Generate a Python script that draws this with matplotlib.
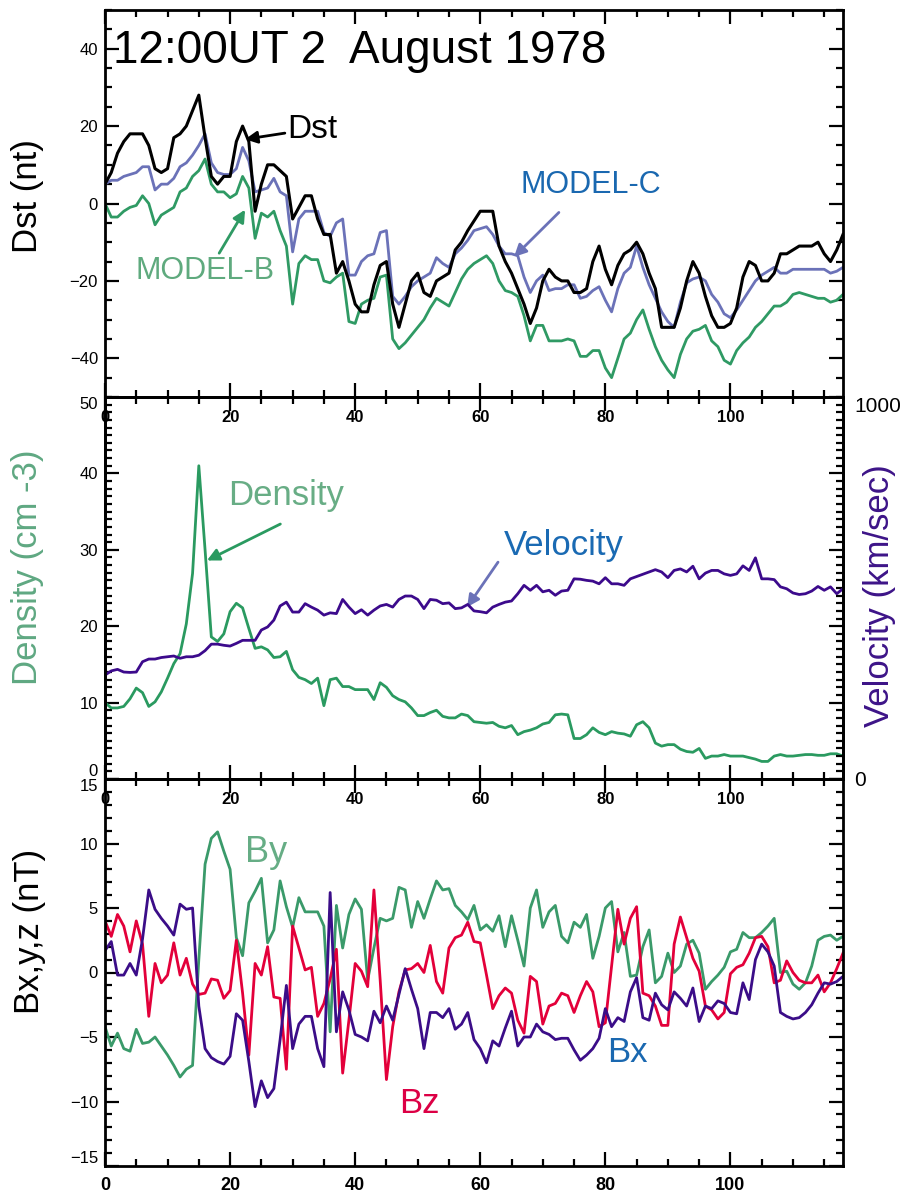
import numpy as np
import matplotlib
matplotlib.use("Agg")
from matplotlib import pyplot as plt
from matplotlib.ticker import MultipleLocator

plt.rcParams['font.family'] = ['Liberation Sans', 'DejaVu Sans']

# hours since 12:00UT 2 August 1978
hours = np.arange(119)

dst = [5, 8, 13, 16, 18, 18, 18, 15, 9, 8, 9, 17, 18, 20, 24, 28, 17, 7, 5, 7,
       7, 16, 20, 16, -2, 5, 10, 10, 8.5, 7, -4, -1, 2, 2, -4, -8, -8, -18, -15, -20,
       -26, -28, -28, -21, -16, -15, -26, -32, -26, -20, -18, -23, -24, -20, -19, -18, -12, -10, -7, -4.5,
       -2, -2, -2, -11, -15, -18, -22, -26, -31, -27, -20, -17, -19, -20, -20, -23, -23, -22, -15, -11,
       -17, -21, -16, -13, -12, -10, -13, -18, -22, -32, -32, -32, -27, -20, -15, -18, -24, -29, -32, -32,
       -31, -27, -19, -15, -16, -20, -20, -18, -13, -13, -12, -11, -11, -11, -10, -13, -15, -12, -8]

model_c = [5, 6, 6, 7, 7.5, 8, 9.5, 9.5, 3.5, 5, 5, 6.5, 9.5, 10.5, 12.5, 15, 18, 10.5, 8, 7.5,
           7.5, 9, 14.5, 11, 3, 3.5, 4, 6.5, 3, 2, -12.5, -4, -2, -2, -2, -7.5, -8.5, -5, -4, -18.5,
           -18.5, -15, -13.5, -13, -7.5, -7, -24, -26, -24, -21.5, -20, -19, -18, -14, -15.5, -16.5, -13, -11.5, -9.5, -7,
           -6.5, -6, -8, -11, -13, -13, -13.5, -19, -23, -20, -18.5, -22.5, -22, -22, -21, -21, -24.5, -24, -22.5, -21.5,
           -25, -28, -22, -18, -16.5, -11, -16.5, -21, -24.5, -28, -30.5, -32, -25.5, -20.5, -19.5, -19, -20, -23.5, -25.5, -28.5,
           -29.5, -27.5, -25, -22.5, -20, -18.5, -17.5, -16.5, -18, -18, -17, -17, -17, -17, -17, -17, -18, -17.5, -16.5]

model_b = [0, -3.5, -3.5, -2, -1, -0.5, 2, 0, -5.5, -3, -2, -1, 3, 4, 7, 8.5, 11.5, 5, 3, 3,
           1.5, 2.5, 7, 4, -9, -2.5, -3.5, -2, -7, -11, -26, -15.5, -13.5, -14.5, -14.5, -20, -20.5, -19, -18, -30.5,
           -31, -26, -25, -24.5, -19, -18.5, -35, -37.5, -36, -34, -32, -30, -27, -24.5, -25.5, -26.5, -23, -19.5, -17, -15.5,
           -14.5, -13.5, -15.5, -20, -22.5, -23, -24, -29, -35.5, -31.5, -31.5, -35.5, -35.5, -35.5, -35, -35.5, -39.5, -39.5, -38, -38,
           -42.5, -45, -40, -35, -33.5, -30, -27.5, -32.5, -37, -40.5, -43, -45, -39, -35, -33, -32.5, -31.5, -35.5, -37, -40.5,
           -41.5, -38, -36, -34.5, -32, -30.5, -28.5, -26.5, -26.5, -25.5, -23.5, -23, -23.5, -24, -24.5, -24.5, -25.5, -25, -23.5]

density = [10, 9.3, 9.3, 9.5, 10.5, 11.9, 11.3, 9.5, 10.1, 11.4, 13.2, 15.1, 16.4, 20.3, 26.9, 41, 30, 18.6, 18, 19,
           21.9, 23, 22.4, 19.7, 17.1, 17.3, 16.9, 15.9, 16, 16.7, 14.3, 13.3, 13, 12.5, 13.2, 9.6, 13, 13.2, 12.1, 12.1,
           11.7, 11.7, 11.7, 10.4, 12.6, 12, 10.9, 10.4, 10.1, 9.3, 8.3, 8.3, 8.7, 9, 8.2, 8, 8, 8.5, 8.3, 7.5,
           7.4, 7.3, 7.4, 6.9, 6.7, 7, 5.8, 6.2, 6.4, 6.7, 7.2, 7.4, 8.4, 8.5, 8.4, 5.3, 5.3, 5.8, 6.7, 6.1,
           5.8, 6.2, 6, 5.9, 5.6, 7.1, 7.5, 6.7, 4.7, 4.3, 4.5, 4.5, 3.9, 3.6, 3.5, 4, 2.7, 3, 3, 3.2,
           3, 3, 3, 2.8, 2.6, 2.3, 2.3, 3, 3.2, 3, 3, 3.1, 3.2, 3.2, 3.1, 3.1, 3.3, 3.3, 3]

velocity = [272, 283, 287, 280, 279, 280, 307, 314, 314, 318, 320, 322, 316, 320, 320, 324, 336, 353, 353, 350,
            348, 355, 363, 363, 363, 390, 398, 416, 453, 463, 437, 437, 459, 450, 442, 429, 435, 433, 470, 450,
            433, 443, 429, 442, 453, 457, 450, 470, 479, 479, 470, 446, 470, 468, 459, 461, 446, 448, 457, 440,
            438, 435, 450, 457, 463, 466, 485, 507, 494, 507, 490, 494, 481, 492, 494, 524, 523, 520, 518, 511,
            527, 511, 511, 507, 524, 530, 536, 542, 548, 542, 527, 546, 550, 542, 557, 524, 539, 546, 546, 537,
            533, 537, 558, 546, 579, 524, 524, 522, 503, 498, 487, 483, 485, 492, 504, 494, 503, 485, 498]

bx = [1.7, 2.4, -0.2, -0.2, 0.7, -0.2, 2.6, 6.4, 4.9, 4.2, 3.6, 2.9, 5.3, 4.9, 5, -2.6, -5.9, -6.6, -6.9, -7.1,
      -6.5, -3.2, -3.7, -6.9, -10.4, -8.4, -9.7, -9, -5.2, -1, -5.9, -4, -3.4, -3.4, -5.9, -7.3, 6.2, -4.6, -1.5, -2.9,
      -4.8, -5, -5.3, -3, -3.9, -2.6, -3.7, -1.7, 0.3, -1.3, -2.8, -5.9, -3.1, -3.1, -3.5, -2.8, -4.4, -4, -3.1, -5.2,
      -5.9, -7, -5.3, -5.7, -4.3, -3, -5.7, -5, -5, -4, -4.6, -4.8, -5.2, -5.1, -5.1, -6, -6.8, -6.4, -5.9, -5.1,
      -2.8, -4.2, -3.5, -3.8, -1.5, -0.4, -3.5, -3.7, -1.6, -2.5, -2.9, -1.5, -2, -2.6, -1.2, -3.8, -2.6, -2.8, -2.2, -2.4,
      -3.1, -3.2, -0.8, -2.1, 1, 2.2, 1.6, 0.5, -3.1, -3.4, -3.6, -3.5, -3.1, -2.5, -1.6, -0.8, -0.9, -0.7, -0.3]

by = [-4.2, -5.7, -4.7, -5.9, -6.1, -4.4, -5.5, -5.4, -5, -5.7, -6.4, -7.2, -8.1, -7.5, -7.2, 1, 8.4, 10.4, 10.9, 9.4,
      8, 2.7, 1.3, 5.4, 6.3, 7.3, 2.3, 3.3, 7.1, 5.1, 3.5, 5.8, 4.7, 4.7, 4.7, 3.6, -4.6, 5.2, 1.9, 4.5,
      5.7, 4.9, -0.6, 1.9, 4.2, 4, 4.2, 6.6, 6.4, 3.5, 5.5, 4.2, 5.7, 7.1, 6.4, 6.5, 5.2, 4.7, 4.1, 5.2,
      3.3, 3.7, 3.2, 4.4, 2, 4.4, 2.5, 0.5, 5, 6.4, 3.5, 4.7, 5.2, 2.8, 2.3, 3.9, 3.5, 4.5, 1.1, 2.8,
      5, 5.5, 1.6, 3.1, -0.3, -0.2, 2, 3.3, -0.8, -0.3, 1.5, 0, 0.5, 2.2, 2.5, 1.5, -1.3, -0.7, -0.2, 0.4,
      1.6, 1.8, 3.1, 2.7, 2.7, 3.1, 3.6, 4.2, 0, 0.1, -0.9, -1.3, -0.8, 0.5, 2.5, 2.8, 2.9, 2.5, 2.8]

bz = [4, 2.8, 4.5, 3.6, 1.6, 4, 2.2, -3.4, 0.7, -0.8, -0.2, 2.3, -0.2, 1.1, -0.9, -1.7, -1.6, -0.5, -0.6, -2,
      -1.4, 2.5, -1.6, -6.4, 0.7, -0.2, 2, -1.9, -2, -7.5, 3.6, 1.9, 0.2, 0.4, -3.4, -2.4, -0.5, 1.8, -7.8, -3.7,
      0.7, 0.1, -1.1, 6.4, -0.6, -8.3, -4.2, -1.5, 0.2, 0.3, 0.7, 0, 2.1, -0.7, -1.6, 1.9, 2.7, 2.9, 3.9, 2.4,
      2.3, -0.2, -2.8, -1.8, -1.2, -1.6, -3.7, -4.7, -0.3, -0.7, -4, -2.6, -2.4, -1.6, -1.8, -3.1, -1.8, -0.7, -1.5, -4.2,
      -3.9, 0.5, 4.9, 2.2, 4.2, 5.1, -1.6, -1.8, -2.6, -4.1, -4.1, 2.2, 4.3, 2.7, 1.1, 0.1, -2.6, -2.9, -3.6, -3.1,
      -0.1, 0.4, 0.6, 1.5, 2.7, 2.8, 2, -0.8, -0.6, 0.9, 0, -0.6, -0.8, -0.8, -0.2, -1.5, -0.8, 0.3, 1.5]

fig = plt.figure(figsize=(9.11, 11.94), dpi=100)
left, width = 105 / 911, 738 / 911
ax1 = fig.add_axes([left, 1 - 397 / 1194, width, 387 / 1194])
ax2 = fig.add_axes([left, 1 - 779 / 1194, width, 382 / 1194])
ax3 = fig.add_axes([left, 1 - 1166 / 1194, width, 387 / 1194])
ax2v = ax2.twinx()


def style(ax, ymaj, ymin, xpad=9):
    ax.patch.set_visible(False)
    ax.set_xlim(0, 118)
    ax.xaxis.set_major_locator(MultipleLocator(20))
    ax.xaxis.set_minor_locator(MultipleLocator(5))
    ax.yaxis.set_minor_locator(MultipleLocator(ymin))
    ax.tick_params(which='both', direction='in', top=True, right=True, width=1.6)
    ax.tick_params(which='major', length=10)
    ax.tick_params(which='minor', length=5)
    ax.tick_params(axis='y', labelsize=12, pad=5)
    ax.tick_params(axis='x', labelsize=12, pad=xpad)
    for lbl in ax.get_xticklabels():
        lbl.set_fontweight('bold')
    for sp in ax.spines.values():
        sp.set_linewidth(2)


def edge_labels(ax):
    # end labels sit inside the panel, as in the original plot
    labels = ax.get_yticklabels()
    labels[0].set_verticalalignment('bottom')
    labels[-1].set_verticalalignment('top')


# --- Dst panel
ax1.plot(hours, model_c, color='#6b72b8', lw=2)
ax1.plot(hours, model_b, color='#2f9a64', lw=2)
ax1.plot(hours, dst, color='black', lw=2.2)
ax1.set_ylim(-50, 50)
ax1.set_yticks([-40, -20, 0, 20, 40])
style(ax1, 20, 5)
ax1.text(1.3, 36.4, '12:00UT 2  August 1978', fontsize=33)
ax1.annotate('Dst', xy=(22.4, 16.6), xytext=(29.2, 16.9), fontsize=24,
             ha='left', va='baseline', color='black',
             arrowprops=dict(arrowstyle='-|>', color='black', lw=2, mutation_scale=18,
                             shrinkA=0, shrinkB=0, relpos=(0, 0.4)))
ax1.annotate('MODEL-B', xy=(22.4, -1.6), xytext=(4.8, -19.5), fontsize=22,
             ha='left', va='baseline', color='#5faa7e',
             arrowprops=dict(arrowstyle='-|>', color='#2f9a64', lw=2, mutation_scale=18,
                             shrinkA=0, shrinkB=0, relpos=(0.6, 1.05)))
ax1.annotate('MODEL-C', xy=(65.4, -13.8), xytext=(66.5, 2.6), fontsize=22,
             ha='left', va='baseline', color='#1a68b0',
             arrowprops=dict(arrowstyle='-|>', color='#6b72b8', lw=2, mutation_scale=18,
                             shrinkA=0, shrinkB=0, relpos=(0.27, -0.4)))
fig.text(28 / 911, 1 - 196 / 1194, 'Dst (nt)', fontsize=25, rotation=90,
         ha='center', va='center')

# --- solar wind density / velocity panel
ax2.plot(hours, density, color='#2a9a60', lw=2)
ax2.set_ylim(0, 50)
ax2.set_yticks(np.arange(0, 51, 10))
style(ax2, 10, 1)
ax2.tick_params(right=False, which='both')
edge_labels(ax2)
ax2v.plot(hours, velocity, color='#3c0a8c', lw=2)
ax2v.set_ylim(0, 1000)
ax2v.set_yticks(np.arange(0, 1001, 200), ['0', '', '', '', '', '1000'])
ax2v.yaxis.set_minor_locator(MultipleLocator(20))
ax2v.tick_params(which='both', direction='in', width=1.6, labelsize=15, pad=8)
ax2v.tick_params(which='major', length=10)
ax2v.tick_params(which='minor', length=5)
ax2v.get_yticklabels()[-1].set_verticalalignment('top')
ax2v.patch.set_visible(False)
for sp in ax2v.spines.values():
    sp.set_linewidth(2)
ax2.annotate('Density', xy=(16.3, 28.6), xytext=(19.7, 35.8), fontsize=25,
             ha='left', va='baseline', color='#68ad85',
             arrowprops=dict(arrowstyle='-|>', color='#2a9a60', lw=2, mutation_scale=18,
                             shrinkA=0, shrinkB=0, relpos=(0.45, -0.35)))
ax2.annotate('Velocity', xy=(57.9, 22.5), xytext=(63.8, 29.3), fontsize=25,
             ha='left', va='baseline', color='#1a6ab3',
             arrowprops=dict(arrowstyle='-|>', color='#6b72b8', lw=2, mutation_scale=18,
                             shrinkA=0, shrinkB=0, relpos=(-0.05, 0.0)))
fig.text(28 / 911, 1 - 567 / 1194, 'Density (cm -3)', fontsize=25, rotation=90,
         ha='center', va='center', color='#5fa882')
fig.text(880 / 911, 1 - 596 / 1194, 'Velocity (km/sec)', fontsize=25, rotation=90,
         ha='center', va='center', color='#3d1488')

# --- IMF panel
ax3.plot(hours, by, color='#3a9a6a', lw=2)
ax3.plot(hours, bz, color='#e3003a', lw=2)
ax3.plot(hours, bx, color='#3b0d88', lw=2)
ax3.set_ylim(-15, 15)
ax3.set_yticks(np.arange(-15, 16, 5))
style(ax3, 5, 1, xpad=8)
ax3.tick_params(axis='x', labelsize=13)
edge_labels(ax3)
ax3.text(22.4, 8.6, 'By', fontsize=26, color='#66ad85')
ax3.text(47, -10.9, 'Bz', fontsize=25, color='#dc0045')
ax3.text(80.3, -6.9, 'Bx', fontsize=25, color='#1a68b0')
fig.text(29 / 911, 1 - 931 / 1194, 'Bx,y,z (nT)', fontsize=25, rotation=90,
         ha='center', va='center')

fig.savefig('out.png', dpi=100)
